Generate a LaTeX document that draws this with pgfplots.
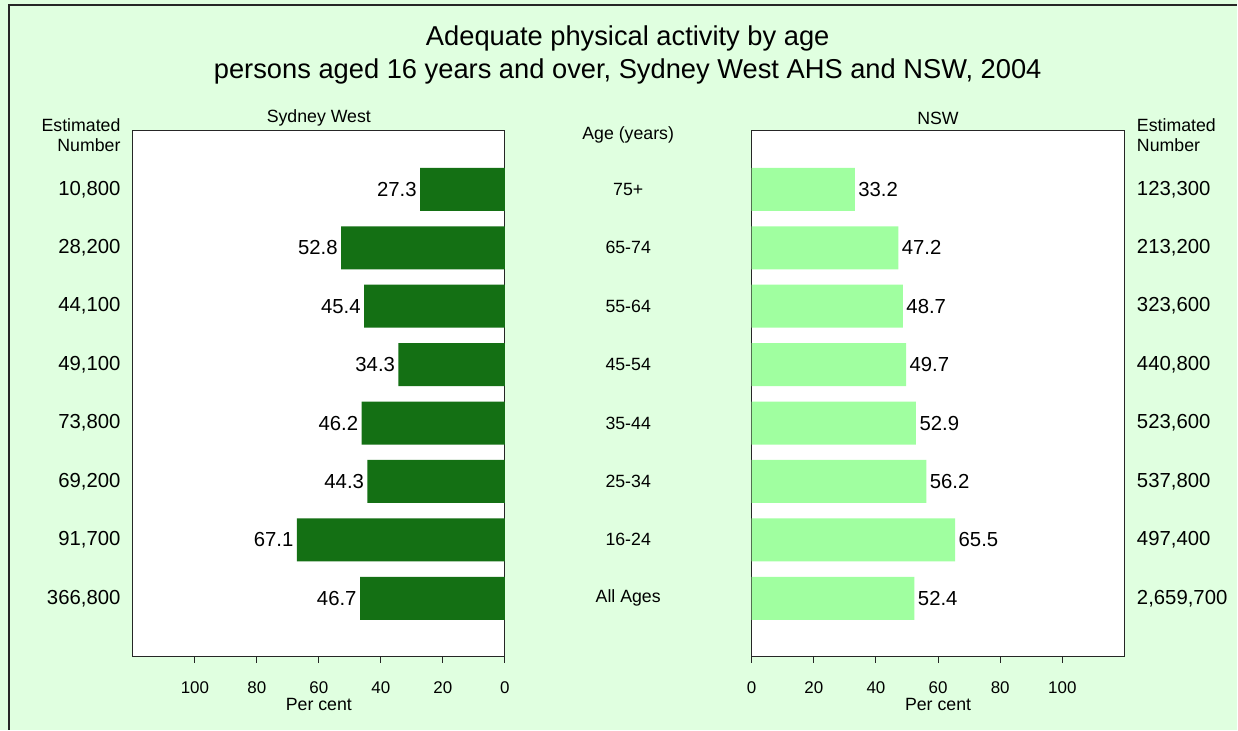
\documentclass[border=0pt]{standalone}
\usepackage{pgfplots}
\pgfplotsset{compat=1.18}
\usepackage{pgfplotstable}
\usepackage{fontspec}
\setmainfont{Liberation Sans}
\definecolor{bg}{RGB}{224,255,224}
\definecolor{dk}{RGB}{20,112,20}
\definecolor{lt}{RGB}{160,255,160}

\pgfplotstableread{
y v
0 46.7
1 67.1
2 44.3
3 46.2
4 34.3
5 45.4
6 52.8
7 27.3
}\sw
\pgfplotstableread{
y v
0 52.4
1 65.5
2 56.2
3 52.9
4 49.7
5 48.7
6 47.2
7 33.2
}\nsw

\newcommand{\sz}{\fontsize{17.8}{20.5}\selectfont}
\newcommand{\szt}{\fontsize{17}{20}\selectfont}
\newcommand{\szb}{\fontsize{20.4}{23}\selectfont}

\pgfplotsset{
  panel/.style={
    scale only axis, height=526bp,
    xmin=0, xmax=120, ymin=-1, ymax=8,
    xbar, bar width=43bp,
    axis background/.style={fill=white},
    axis line style={black!85, line width=1bp},
    tick style={black!85, line width=1bp},
    xtick={0,20,...,100}, tick align=outside, xtick pos=bottom,
    major tick length=6bp,
    ytick={0,...,7}, ytick style={draw=none},
    /pgf/number format/assume math mode=true,
    font=\sz,
    xticklabel style={font=\szt, yshift=-15bp},
    yticklabel style={font=\szb},
    xlabel={Per cent},
    xlabel style={at={(axis description cs:0.5,0)}, anchor=center, yshift=-48bp, font=\sz},
    title style={at={(axis description cs:0.5,1)}, anchor=center, yshift=7bp, font=\sz},
    nodes near coords={\pgfmathprintnumber[fixed,fixed zerofill,precision=1,assume math mode=true]{\pgfplotspointmeta}},
    every node near coord/.append style={font=\szb, text=black},
  }
}

\begin{document}
\begin{tikzpicture}
\fill[bg] (0,0) rectangle (1238bp,730bp);
\draw[black!85, line width=1.2bp] (9bp,0) -- (9bp,725bp) -- (1238bp,725bp);

\node[font=\fontsize{27.4}{33}\selectfont, align=center] at (628bp,675bp)
  {Adequate physical activity by age\\persons aged 16 years and over, Sydney West AHS and NSW, 2004};
\node[font=\sz, align=right, anchor=east] at (124bp,595bp) {Estimated\\Number};
\node[font=\sz, align=left, anchor=west] at (1134bp,595bp) {Estimated\\Number};

% Sydney West
\begin{axis}[panel, width=372bp, at={(133bp,73bp)}, anchor=south west,
  x dir=reverse, title={Sydney West},
  yticklabels={{366,800},{91,700},{69,200},{73,800},{49,100},{44,100},{28,200},{10,800}},
  yticklabel style={xshift=-3bp},
  every node near coord/.append style={anchor=east}]
\addplot[draw=none, fill=dk] table[x=v, y=y] {\sw};
\end{axis}

% Age labels
\begin{axis}[scale only axis, width=247bp, height=526bp, at={(505bp,73bp)}, anchor=south west,
  xmin=0, xmax=1, ymin=-1, ymax=8, axis line style={draw=none},
  xtick=\empty, ytick={0,...,7}, major tick length=0bp, ytick style={draw=none},
  yticklabels={All Ages,16-24,25-34,35-44,45-54,55-64,65-74,75+},
  yticklabel style={font=\sz, anchor=center, xshift=123.5bp},
  title={Age (years)},
  title style={at={(axis description cs:0.5,1)}, anchor=center, yshift=-10bp, font=\sz}]
\end{axis}

% NSW
\begin{axis}[panel, width=373bp, at={(752bp,73bp)}, anchor=south west,
  title={NSW}, yticklabel pos=right,
  yticklabels={{2,659,700},{497,400},{537,800},{523,600},{440,800},{323,600},{213,200},{123,300}},
  yticklabel style={xshift=3bp},
  every node near coord/.append style={anchor=west}]
\addplot[draw=none, fill=lt] table[x=v, y=y] {\nsw};
\end{axis}
\end{tikzpicture}
\end{document}
